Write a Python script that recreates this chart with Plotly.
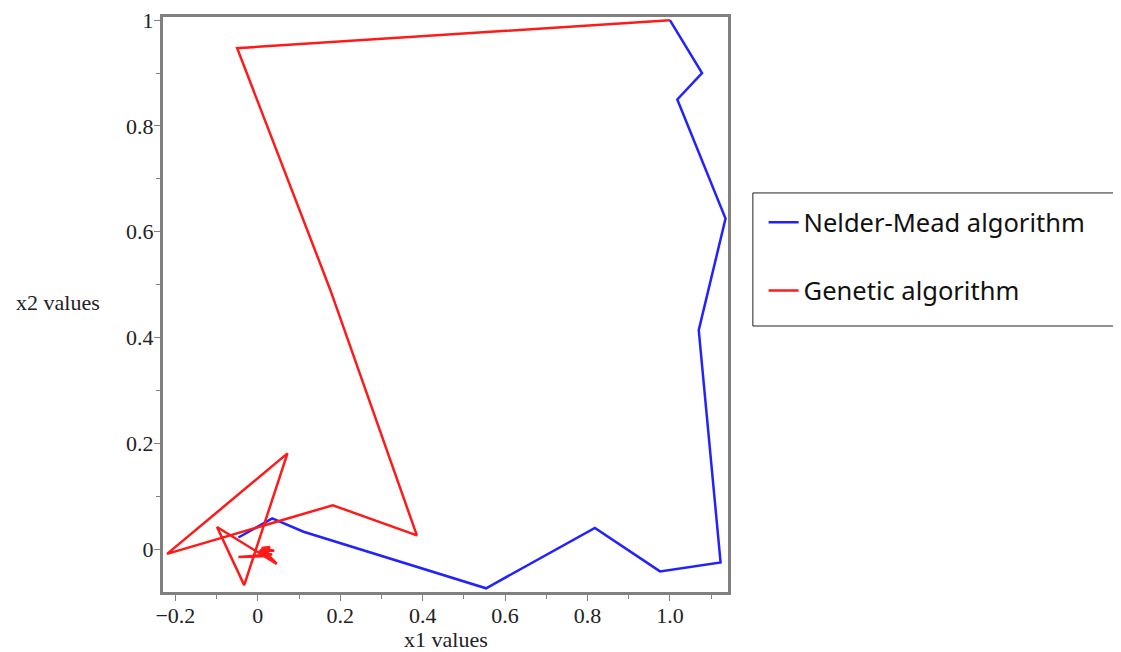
import plotly.graph_objects as go

# Nelder-Mead path (x1, x2)
nm_x1 = [1.000, 1.078, 1.018, 1.135, 1.070, 1.123, 0.976, 0.818, 0.554, 0.111, 0.035, -0.047]
nm_x2 = [1.000, 0.900, 0.850, 0.625, 0.414, -0.025, -0.042, 0.040, -0.074, 0.033, 0.058, 0.022]

# Genetic algorithm path (x1, x2)
ga_x1 = [1.000, -0.050, 0.176, 0.386, 0.182, -0.220, 0.072, -0.033, -0.099, 0.046,
         0.010, 0.030, 0.000, 0.035, -0.047, 0.028, 0.020, 0.040, 0.005]
ga_x2 = [1.000, 0.947, 0.490, 0.026, 0.083, -0.009, 0.181, -0.068, 0.042, -0.028,
         0.002, 0.004, -0.006, -0.010, -0.015, -0.013, 0.000, -0.003, -0.002]

x_ticks = [-0.2, 0, 0.2, 0.4, 0.6, 0.8, 1.0]
x_ticktext = ["\u22120.2", "0", "0.2", "0.4", "0.6", "0.8", "1.0"]
y_ticks = [0, 0.2, 0.4, 0.6, 0.8, 1.0]
y_ticktext = ["0", "0.2", "0.4", "0.6", "0.8", "1"]

fig = go.Figure()
fig.add_trace(go.Scatter(x=nm_x1, y=nm_x2, mode="lines", name="Nelder-Mead algorithm",
                         line=dict(color="#2222ff", width=2.5), legendgroup="a"))
fig.add_trace(go.Scatter(x=ga_x1, y=ga_x2, mode="lines", name="Genetic algorithm",
                         line=dict(color="#ff1a1a", width=2.5), legendgroup="b"))

axis_common = dict(
    showline=True, linecolor="#808080", linewidth=3, mirror=True,
    ticks="outside", tickcolor="#808080", ticklen=6, tickwidth=1,
    showgrid=False, zeroline=False, automargin=False,
    ticklabeloverflow="allow", ticklabelstandoff=-4,
    tickfont=dict(family="Liberation Serif", size=22, color="#222222"),
)

fig.update_xaxes(range=[-0.23, 1.141], tickmode="array", tickvals=x_ticks, ticktext=x_ticktext,
                 minor=dict(tickmode="linear", tick0=0, dtick=0.1, ticks="outside", ticklen=4, tickcolor="#808080"),
                 **axis_common)
fig.update_yaxes(range=[-0.081, 1.006], tickmode="array", tickvals=y_ticks, ticktext=y_ticktext,
                 minor=dict(tickmode="linear", tick0=0, dtick=0.1, ticks="outside", ticklen=4, tickcolor="#808080"),
                 **axis_common)

title_font = dict(family="Liberation Serif", size=22, color="#222222")
fig.add_annotation(text="x2 values", xref="paper", yref="paper", x=-0.186, y=0.503,
                   xanchor="center", yanchor="middle", showarrow=False, font=title_font)
fig.add_annotation(text="x1 values", xref="paper", yref="paper", x=0.501, y=-0.083,
                   xanchor="center", yanchor="middle", showarrow=False, font=title_font)

# legend frame (extends to the right edge as in the reference)
fig.add_shape(type="rect", xref="paper", yref="paper", x0=1.044, x1=1.69, y0=0.4626, y1=0.694,
              line=dict(color="#222222", width=1), fillcolor="rgba(0,0,0,0)")

fig.update_layout(
    width=1113, height=644,
    margin=dict(l=155, r=393, t=9, b=60),
    paper_bgcolor="white", plot_bgcolor="white",
    showlegend=True,
    legend=dict(x=1.063, y=0.683, xanchor="left", yanchor="top",
                borderwidth=0, bgcolor="rgba(0,0,0,0)",
                font=dict(family="Noto Sans", size=25.5, color="#111111"),
                tracegroupgap=32),
)

fig.write_html("out.html")
